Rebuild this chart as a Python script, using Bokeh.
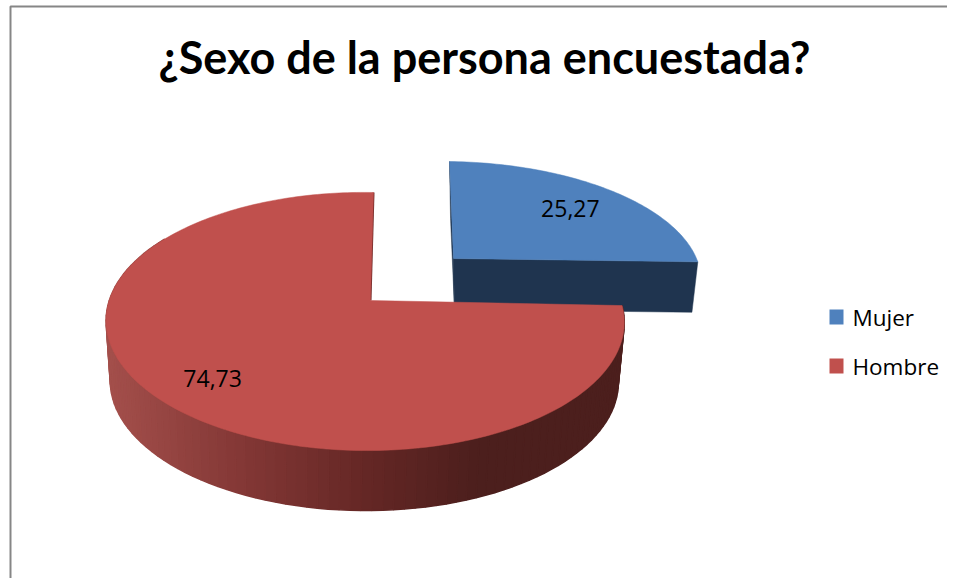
import numpy as np
from bokeh.plotting import figure
from bokeh.embed import file_html
from bokeh.resources import INLINE
from bokeh.core.properties import value

title_text = "¿Sexo de la persona encuestada?"
categories = ["Mujer", "Hombre"]
values = [25.27, 74.73]
labels = ["25,27", "74,73"]

BLUE, RED, BLUE_SIDE = "#4f81bd", "#c0504d", "#1f344f"
W, H = 947, 578
FONT = "Open Sans"

# projection of the unit pie disc to the page (perspective seen from above)
K, M = 0.163, 0.018
RED_TOP = dict(ox=370, oy=300, a=255.5, b=3.5, h=125.6, g=-3.0)
RED_BOT = dict(ox=369, oy=360, a=250.5, b=3.5, h=125.6, g=-3.0)
BLUE_TOP = dict(ox=453, oy=258, a=248.0, b=-4.6, h=112.8, g=-1.5)
BLUE_BOT = dict(ox=454, oy=309, a=241.0, b=-4.6, h=106.0, g=-1.0)


def proj(theta, r, o):
    X, Y = r * np.sin(theta), r * np.cos(theta)
    w = 1 + K * Y + M * X
    return o["ox"] + (o["a"] * X + o["b"] * Y) / w, o["oy"] - (o["h"] * Y + o["g"] * X) / w


p = figure(width=W, height=H, x_range=(0, W), y_range=(H, 0), toolbar_location=None,
           output_backend="svg", min_border=0, outline_line_color=None,
           background_fill_color="white")
p.axis.visible = False
p.grid.visible = False

# chart frame
p.line([10, 10, W], [H, 6, 6], line_color="#868686", line_width=2)

fracs = np.cumsum([0] + values) / sum(values) * 2 * np.pi
t_blue0, t_blue1 = fracs[0], fracs[1]
t_red0, t_red1 = fracs[1], fracs[2]

# blue slice: walls then top face
nx, ny = proj(t_blue0, 1, BLUE_TOP)
ax, ay = proj(0.0, 0, BLUE_TOP)
bnx, bny = proj(t_blue0, 1, BLUE_BOT)
bax, bay = proj(0.0, 0, BLUE_BOT)
p.patch([nx, ax, bax, bnx], [ny, ay, bay, bny], fill_color=BLUE_SIDE, line_color=BLUE_SIDE, line_width=0.5)
ex, ey = proj(t_blue1, 1, BLUE_TOP)
bex, bey = proj(t_blue1, 1, BLUE_BOT)
p.patch([ax, ex, bex, bax], [ay, ey, bey, bay], fill_color=BLUE_SIDE, line_color=BLUE_SIDE, line_width=0.5)
th = np.linspace(t_blue0, t_blue1, 80)
bx, by = proj(th, 1, BLUE_TOP)
p.patch([ax, *bx], [ay, *by], fill_color=BLUE, line_color=BLUE, line_width=0.5)

# red slice: curved outer wall as shaded strips
edges = np.linspace(t_red0, np.radians(300), 101)
xs, ys, cols = [], [], []
for t0, t1 in zip(edges[:-1], edges[1:]):
    x0, y0 = proj(t0, 1, RED_TOP)
    x1, y1 = proj(t1, 1, RED_TOP)
    x2, y2 = proj(t1, 1, RED_BOT)
    x3, y3 = proj(t0, 1, RED_BOT)
    xm = (x0 + x1) / 2
    c = [np.interp(xm, [110, 240, 370, 480, 640], s) for s in
         ([0xa3, 0x84, 0x64, 0x4c, 0x4c], [0x4f, 0x38, 0x27, 0x1f, 0x1f], [0x4b, 0x36, 0x25, 0x1d, 0x1d])]
    xs.append([x0, x1, x2, x3])
    ys.append([y0, y1, y2, y3])
    cols.append("#%02x%02x%02x" % tuple(int(v) for v in c))
p.patches(xs, ys, fill_color=cols, line_color=cols, line_width=1.5)

# red slice: thin inner wall and top face
rax, ray = proj(0.0, 0, RED_TOP)
rnx, rny = proj(t_red1, 1, RED_TOP)
p.line([rax, rnx], [ray, rny], line_color="#6e2b29", line_width=2)
th = np.linspace(t_red0, t_red1, 240)
rx, ry = proj(th, 1, RED_TOP)
p.patch([rax, *rx], [ray, *ry], fill_color=RED, line_color=RED, line_width=0.5)

# data labels
lx0, ly0 = proj((t_blue0 + t_blue1) / 2, 0.75, BLUE_TOP)
lx1, ly1 = proj((t_red0 + t_red1) / 2, 0.78, RED_TOP)
p.text([lx0 - 2, lx1 + 2], [ly0 + 3, ly1 + 4], text=labels, text_font=value(FONT), text_font_size="23px",
       text_color="black", text_align="center", text_baseline="middle")

# title
p.text([484], [56], text=[title_text], text_font=value("Lato"), text_font_style="bold",
       text_font_size="45px", text_color="black", text_align="center", text_baseline="alphabetic")

# legend
colors = [BLUE, RED]
leg_y = [316.5, 365.5]
p.rect([836, 836], leg_y, width=14, height=15, fill_color=colors, line_color=None)
p.text([852, 852], [y + 0.5 for y in leg_y], text=categories, text_font=value(FONT), text_font_size="22.5px",
       text_color="black", text_align="left", text_baseline="alphabetic")

open("out.html", "w").write(file_html(p, INLINE))
